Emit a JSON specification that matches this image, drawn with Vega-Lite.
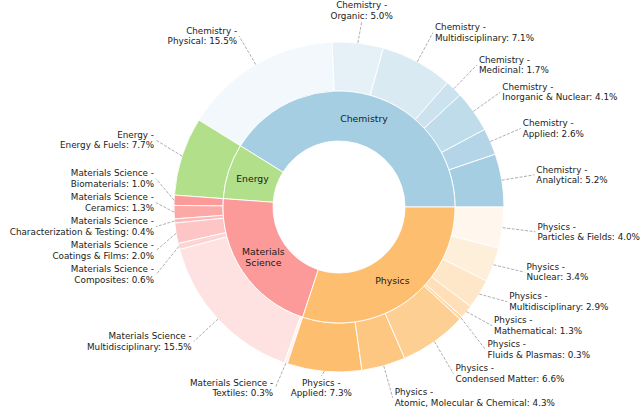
{
  "$schema": "https://vega.github.io/schema/vega-lite/v6.json",
  "width": 602,
  "height": 400,
  "autosize": {"type": "none"},
  "padding": {"left": 38, "top": 7, "right": 0, "bottom": 0},
  "background": "white",
  "config": {"view": {"stroke": null}, "font": "DejaVu Sans"},
  "data": {
    "values": [
      {"cat": "Chemistry", "sub": "Analytical", "value": 5.2},
      {"cat": "Chemistry", "sub": "Applied", "value": 2.6},
      {"cat": "Chemistry", "sub": "Inorganic & Nuclear", "value": 4.1},
      {"cat": "Chemistry", "sub": "Medicinal", "value": 1.7},
      {"cat": "Chemistry", "sub": "Multidisciplinary", "value": 7.1},
      {"cat": "Chemistry", "sub": "Organic", "value": 5.0},
      {"cat": "Chemistry", "sub": "Physical", "value": 15.5},
      {"cat": "Energy", "sub": "Energy & Fuels", "value": 7.7},
      {"cat": "Materials Science", "sub": "Biomaterials", "value": 1.0},
      {"cat": "Materials Science", "sub": "Ceramics", "value": 1.3},
      {"cat": "Materials Science", "sub": "Characterization & Testing", "value": 0.4},
      {"cat": "Materials Science", "sub": "Coatings & Films", "value": 2.0},
      {"cat": "Materials Science", "sub": "Composites", "value": 0.6},
      {"cat": "Materials Science", "sub": "Multidisciplinary", "value": 15.5},
      {"cat": "Materials Science", "sub": "Textiles", "value": 0.3},
      {"cat": "Physics", "sub": "Applied", "value": 7.3},
      {"cat": "Physics", "sub": "Atomic, Molecular & Chemical", "value": 4.3},
      {"cat": "Physics", "sub": "Condensed Matter", "value": 6.6},
      {"cat": "Physics", "sub": "Fluids & Plasmas", "value": 0.3},
      {"cat": "Physics", "sub": "Mathematical", "value": 1.3},
      {"cat": "Physics", "sub": "Multidisciplinary", "value": 2.9},
      {"cat": "Physics", "sub": "Nuclear", "value": 3.4},
      {"cat": "Physics", "sub": "Particles & Fields", "value": 4.0}
    ]
  },
  "transform": [
    {"window": [{"op": "sum", "field": "value", "as": "cend"}], "sort": [{"field": "cat"}, {"field": "sub"}], "frame": [null, 0]},
    {"calculate": "datum.cend - datum.value", "as": "cstart"},
    {"joinaggregate": [{"op": "sum", "field": "value", "as": "total"}]},
    {"joinaggregate": [{"op": "count", "as": "n"}], "groupby": ["cat"]},
    {"window": [{"op": "row_number", "as": "k"}], "groupby": ["cat"], "sort": [{"field": "sub"}]},
    {"calculate": "1 - (datum.k - 1) / datum.n", "as": "op"},
    {"calculate": "2 * PI * (datum.cstart + datum.value / 2) / datum.total", "as": "ang"},
    {"calculate": "165 * cos(datum.ang)", "as": "ax"},
    {"calculate": "165 * sin(datum.ang)", "as": "ay"},
    {"calculate": "max(-183, 198 * cos(datum.ang))", "as": "nx"},
    {"calculate": "max(-181, min(197, 198 * sin(datum.ang)))", "as": "ny"},
    {"calculate": "cos(datum.ang) > 0.2 ? 'R' : (cos(datum.ang) < -0.2 ? 'L' : 'C')", "as": "side"},
    {"window": [{"op": "row_number", "as": "ri"}], "groupby": ["side"], "sort": [{"field": "ny", "order": "descending"}]},
    {"calculate": "datum.ny + datum.ri * 24", "as": "a"},
    {"window": [{"op": "min", "field": "a", "as": "amin"}], "groupby": ["side"], "sort": [{"field": "ny", "order": "descending"}], "frame": [null, 0]},
    {"window": [{"op": "max", "field": "a", "as": "amax"}], "groupby": ["side"], "sort": [{"field": "ny", "order": "descending"}], "frame": [0, null]},
    {"calculate": "(datum.amin + datum.amax) / 2 - datum.ri * 24", "as": "fy"},
    {"calculate": "datum.side == 'C' ? datum.fy - (datum.fy > 0 ? 12 : -12) : datum.fy", "as": "ey"},
    {"calculate": "datum.cat + ' -\\n' + datum.sub + ': ' + format(datum.value, '.1f') + '%'", "as": "lbl"}
  ],
  "layer": [
    {
      "mark": {"type": "arc", "innerRadius": 116, "outerRadius": 165, "stroke": "white", "strokeWidth": 0.9},
      "encoding": {
        "theta": {"field": "cend", "type": "quantitative", "stack": null, "scale": {"range": [1.5707963, -4.712389], "zero": true, "nice": false}},
        "theta2": {"field": "cstart"},
        "color": {"field": "cat", "type": "nominal", "legend": null, "scale": {"domain": ["Chemistry", "Energy", "Materials Science", "Physics"], "range": ["#a6cee3", "#b2df8a", "#fb9a99", "#fdbf6f"]}},
        "fillOpacity": {"field": "op", "type": "quantitative", "scale": null, "legend": null}
      }
    },
    {
      "transform": [
        {"aggregate": [{"op": "min", "field": "cstart", "as": "cstart"}, {"op": "max", "field": "cend", "as": "cend"}], "groupby": ["cat"]}
      ],
      "mark": {"type": "arc", "innerRadius": 66, "outerRadius": 116, "stroke": "white", "strokeWidth": 0.9},
      "encoding": {
        "theta": {"field": "cend", "type": "quantitative", "stack": null, "scale": {"range": [1.5707963, -4.712389], "zero": true, "nice": false}},
        "theta2": {"field": "cstart"},
        "color": {"field": "cat", "type": "nominal", "legend": null, "scale": {"domain": ["Chemistry", "Energy", "Materials Science", "Physics"], "range": ["#a6cee3", "#b2df8a", "#fb9a99", "#fdbf6f"]}}
      }
    },
    {
      "transform": [
        {"aggregate": [{"op": "min", "field": "cstart", "as": "gstart"}, {"op": "max", "field": "cend", "as": "gend"}, {"op": "max", "field": "total", "as": "total"}], "groupby": ["cat"]},
        {"calculate": "PI * (datum.gstart + datum.gend) / datum.total", "as": "gang"},
        {"calculate": "91 * cos(datum.gang)", "as": "ix"},
        {"calculate": "91 * sin(datum.gang) + (indexof(datum.cat, ' ') >= 0 ? 5.5 : 0)", "as": "iy"},
        {"calculate": "replace(datum.cat, ' ', '\\n')", "as": "clbl"}
      ],
      "mark": {"type": "text", "fontSize": 9.3, "lineHeight": 11, "lineBreak": "\n", "align": "center", "baseline": "middle", "color": "#1a1a1a"},
      "encoding": {
        "x": {"field": "ix", "type": "quantitative", "scale": {"domain": [-301, 301], "nice": false, "zero": false}, "axis": null},
        "y": {"field": "iy", "type": "quantitative", "scale": {"domain": [-200, 200], "nice": false, "zero": false}, "axis": null},
        "text": {"field": "clbl", "type": "nominal"}
      }
    },
    {
      "mark": {"type": "rule", "color": "#999999", "strokeWidth": 0.8, "strokeDash": [3, 1.5]},
      "encoding": {
        "x": {"field": "ax", "type": "quantitative", "scale": {"domain": [-301, 301], "nice": false, "zero": false}, "axis": null},
        "y": {"field": "ay", "type": "quantitative", "scale": {"domain": [-200, 200], "nice": false, "zero": false}, "axis": null},
        "x2": {"field": "nx"},
        "y2": {"field": "ey"}
      }
    },
    {
      "transform": [{"filter": "datum.side == 'L'"}],
      "mark": {"type": "text", "fontSize": 8.8, "lineHeight": 10.5, "lineBreak": "\n", "align": "right", "baseline": "middle", "dx": -2, "dy": -5.25, "color": "#1a1a1a"},
      "encoding": {
        "x": {"field": "nx", "type": "quantitative", "scale": {"domain": [-301, 301], "nice": false, "zero": false}, "axis": null},
        "y": {"field": "fy", "type": "quantitative", "scale": {"domain": [-200, 200], "nice": false, "zero": false}, "axis": null},
        "text": {"field": "lbl", "type": "nominal"}
      }
    },
    {
      "transform": [{"filter": "datum.side == 'R'"}],
      "mark": {"type": "text", "fontSize": 8.8, "lineHeight": 10.5, "lineBreak": "\n", "align": "left", "baseline": "middle", "dx": 2, "dy": -5.25, "color": "#1a1a1a"},
      "encoding": {
        "x": {"field": "nx", "type": "quantitative", "scale": {"domain": [-301, 301], "nice": false, "zero": false}, "axis": null},
        "y": {"field": "fy", "type": "quantitative", "scale": {"domain": [-200, 200], "nice": false, "zero": false}, "axis": null},
        "text": {"field": "lbl", "type": "nominal"}
      }
    },
    {
      "transform": [{"filter": "datum.side == 'C'"}],
      "mark": {"type": "text", "fontSize": 8.8, "lineHeight": 10.5, "lineBreak": "\n", "align": "center", "baseline": "middle", "dy": -5.25, "color": "#1a1a1a"},
      "encoding": {
        "x": {"field": "nx", "type": "quantitative", "scale": {"domain": [-301, 301], "nice": false, "zero": false}, "axis": null},
        "y": {"field": "fy", "type": "quantitative", "scale": {"domain": [-200, 200], "nice": false, "zero": false}, "axis": null},
        "text": {"field": "lbl", "type": "nominal"}
      }
    }
  ]
}
